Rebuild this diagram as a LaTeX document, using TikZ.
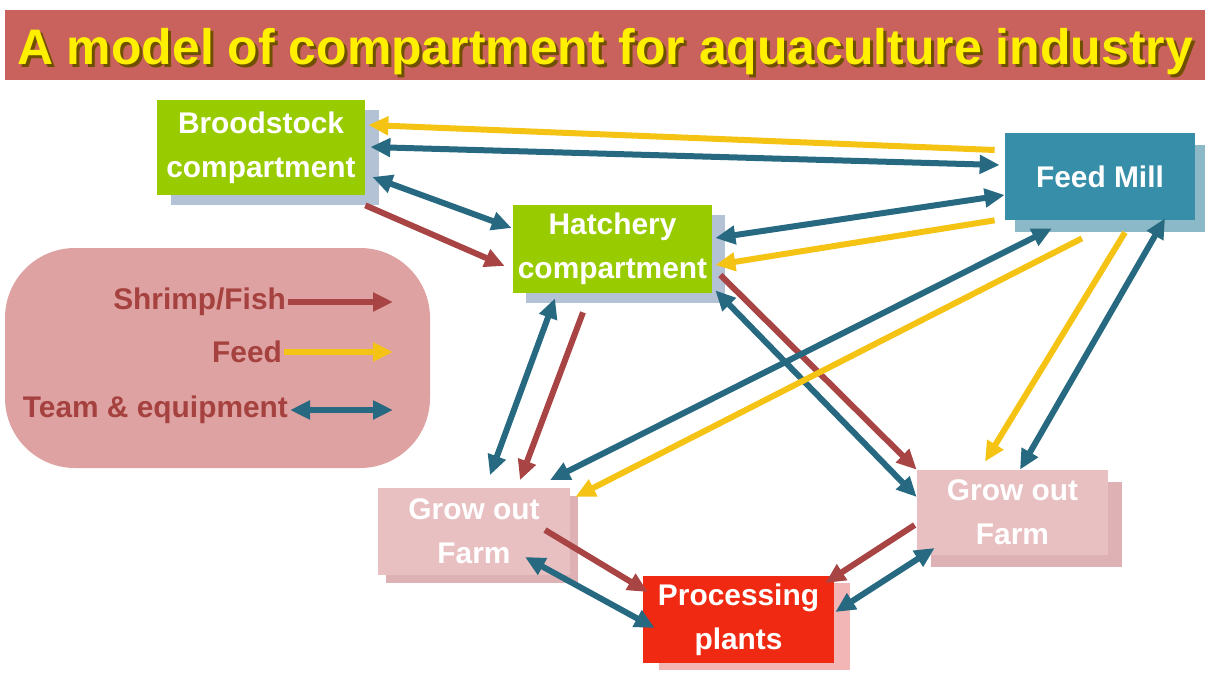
\documentclass[tikz,border=0pt]{standalone}
\usepackage{fontspec}
\setmainfont{Liberation Sans}
\usetikzlibrary{arrows.meta,shadows}

\definecolor{titlebar}{RGB}{201,98,92}
\definecolor{titletext}{RGB}{255,240,0}
\definecolor{titleshade}{RGB}{110,80,0}
\definecolor{compgreen}{RGB}{153,204,0}
\definecolor{greenshade}{RGB}{180,194,214}
\definecolor{millteal}{RGB}{55,142,168}
\definecolor{millshade}{RGB}{140,185,200}
\definecolor{growpink}{RGB}{233,192,194}
\definecolor{growshade}{RGB}{222,178,180}
\definecolor{plantred}{RGB}{240,42,18}
\definecolor{plantshade}{RGB}{242,182,182}
\definecolor{legendfill}{RGB}{222,162,162}
\definecolor{legendtext}{RGB}{165,65,62}
\definecolor{fishcol}{RGB}{168,68,68}
\definecolor{feedcol}{RGB}{245,195,20}
\definecolor{teamcol}{RGB}{38,105,128}

\newcommand{\shadedtitle}[1]{\makebox[0pt][l]{\hspace{0.06cm}\raisebox{-0.06cm}{\color{titleshade}#1}}#1}

\begin{document}
\begin{tikzpicture}[
    box/.style={rectangle,text=white,font=\fontsize{17}{25}\selectfont\bfseries,align=center,
      minimum width=3.84cm,minimum height=1.74cm,inner sep=1pt},
    fish/.style={draw=fishcol,line width=0.12cm,-{Triangle[length=0.4cm,width=0.36cm]}},
    feedarrow/.style={draw=feedcol,line width=0.12cm,-{Triangle[length=0.4cm,width=0.36cm]}},
    team/.style={draw=teamcol,line width=0.12cm,{Triangle[length=0.4cm,width=0.36cm]}-{Triangle[length=0.4cm,width=0.36cm]}},
    legtext/.style={text=legendtext,font=\fontsize{17}{21}\selectfont\bfseries,anchor=east,inner sep=1pt}]
\useasboundingbox (0,0) rectangle (24.16,13.5);

% title
\node[fill=titlebar,minimum width=24cm,minimum height=1.4cm] (bar) at (12.1,12.6) {};
\node[text=titletext,font=\fontsize{28.4}{32}\selectfont\bfseries,anchor=base] (title) at (12.1,12.2)
  {\shadedtitle{A model of compartment for aquaculture industry}};

% legend
\node[fill=legendfill,rounded corners=1.4cm,minimum width=8.5cm,minimum height=4.4cm] (legend) at (4.35,6.34) {};
\node[legtext] (lfish) at (5.76,7.46) {Shrimp/Fish};
\node[legtext] (lfeed) at (5.68,6.46) {Feed};
\node[legtext] (lteam) at (5.8,5.3) {Team \& equipment};
\coordinate (efish) at (7.86,7.46);
\coordinate (efeed) at (7.86,6.46);
\coordinate (eteam) at (7.86,5.3);
\draw[fish] (lfish.east) -- (efish);
\draw[feedarrow] (lfeed.east) -- (efeed);
\draw[team] (lteam.east) -- (eteam);

% compartments
\node[box,fill=compgreen,minimum width=4.16cm,minimum height=1.9cm,
  drop shadow={shadow xshift=0.28cm,shadow yshift=-0.2cm,fill=greenshade,opacity=1}] (brood) at (5.22,10.55) {Broodstock\\compartment};
\node[box,fill=compgreen,minimum width=3.98cm,minimum height=1.76cm,
  drop shadow={shadow xshift=0.26cm,shadow yshift=-0.2cm,fill=greenshade,opacity=1}] (hatch) at (12.25,8.52) {Hatchery\\compartment};
\node[box,fill=millteal,minimum width=3.8cm,
  drop shadow={shadow xshift=0.2cm,shadow yshift=-0.24cm,fill=millshade,opacity=1}] (feed) at (22.0,9.97) {Feed Mill};
\node[box,fill=growpink,
  drop shadow={shadow xshift=0.16cm,shadow yshift=-0.16cm,fill=growshade,opacity=1}] (lgrow) at (9.48,2.88) {Grow out\\Farm};
\node[box,fill=growpink,minimum width=3.82cm,minimum height=1.7cm,
  drop shadow={shadow xshift=0.28cm,shadow yshift=-0.24cm,fill=growshade,opacity=1}] (rgrow) at (20.25,3.25) {Grow out\\Farm};
\node[box,fill=plantred,minimum width=3.82cm,
  drop shadow={shadow xshift=0.32cm,shadow yshift=-0.14cm,fill=plantshade,opacity=1}] (proc) at (14.77,1.11) {Processing\\plants};

% flows
\draw[feedarrow] ([shift={(-0.2,0.53)}]feed.west) -- ([shift={(0.06,0.45)}]brood.east);
\draw[team] ([shift={(0.1,0.01)}]brood.east) -- ([shift={(-0.1,0.23)}]feed.west);
\draw[team] ([shift={(0.14,-0.59)}]brood.east) -- ([shift={(-0.02,0.42)}]hatch.west);
\draw[fish] ([shift={(0,-0.2)}]brood.south east) -- ([shift={(-0.16,-0.34)}]hatch.west);
\draw[team] ([shift={(0.06,0.22)}]hatch.east) -- ([shift={(0,-0.37)}]feed.west);
\draw[feedarrow] ([shift={(-0.2,0)}]feed.south west) -- ([shift={(0.06,-0.32)}]hatch.east);
\draw[fish] ([shift={(0.16,-0.52)}]hatch.east) -- (rgrow.north west);
\draw[team] ([shift={(0.06,0.06)}]hatch.south east) -- ([shift={(0,0.31)}]rgrow.west);
\draw[team] ([shift={(-1.15,-0.1)}]hatch.south) -- ([shift={(0.32,0.24)}]lgrow.north);
\draw[fish] ([shift={(-0.59,-0.38)}]hatch.south) -- ([shift={(0.92,0.14)}]lgrow.north);
\draw[team] ([shift={(1.52,0.14)}]lgrow.north) -- ([shift={(-0.96,-0.16)}]feed.south);
\draw[feedarrow] ([shift={(-0.36,-0.36)}]feed.south) -- ([shift={(0.1,0.68)}]lgrow.east);
\draw[feedarrow] ([shift={(0.5,-0.24)}]feed.south) -- ([shift={(-0.55,0.16)}]rgrow.north);
\draw[team] ([shift={(0.15,0)}]rgrow.north) -- ([shift={(1.3,0.04)}]feed.south);
\draw[fish] ([shift={(1.42,0.02)}]lgrow.center) -- ([shift={(0.1,0.55)}]proc.west);
\draw[team] ([shift={(1.02,-0.52)}]lgrow.center) -- ([shift={(0.24,-0.17)}]proc.west);
\draw[fish] ([shift={(-0.04,-0.25)}]rgrow.west) -- ([shift={(-0.18,0.73)}]proc.east);
\draw[team] ([shift={(0.36,-0.71)}]rgrow.west) -- ([shift={(0.02,0.15)}]proc.east);

\end{tikzpicture}
\end{document}
